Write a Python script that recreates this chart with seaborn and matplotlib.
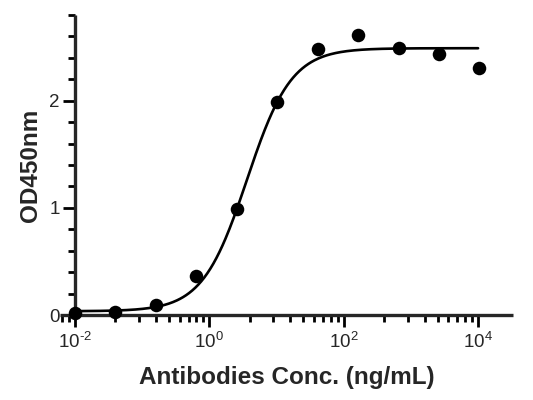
import numpy as np
import pandas as pd
import matplotlib
matplotlib.use("Agg")
import matplotlib.pyplot as plt
import seaborn as sns
from matplotlib.ticker import FixedLocator

# ---- data ----
conc = [0.01, 0.04, 0.16, 0.64, 2.56, 10.24, 40.96, 163.84, 655.36, 2621.44, 10485.76]
od450 = [0.02, 0.03, 0.09, 0.36, 0.99, 1.99, 2.48, 2.61, 2.49, 2.44, 2.31]

# 4PL fit parameters
fit_bottom = 0.035
fit_top = 2.49
fit_ec50 = 3.63
fit_hill = 1.31

x_major = [1e-2, 1e0, 1e2, 1e4]
x_major_labels = ["10$^{\u20102}$", "10$^{0}$", "10$^{2}$", "10$^{4}$"]
y_major = [0, 1, 2]
xlabel = "Antibodies Conc. (ng/mL)"
ylabel = "OD450nm"

sns.set_style("ticks")
plt.rcParams["font.family"] = ["Liberation Sans", "DejaVu Sans"]
plt.rcParams["mathtext.fontset"] = "custom"
plt.rcParams["mathtext.rm"] = "Liberation Sans"
plt.rcParams["mathtext.it"] = "Liberation Sans"
plt.rcParams["mathtext.default"] = "regular"

fig = plt.figure(figsize=(5.33, 4.0), dpi=100)
ax = fig.add_axes([60 / 533, 85 / 400, (513 - 60) / 533, (315 - 15) / 400])

xs = np.logspace(-2, 4, 400)
ys = fit_bottom + (fit_top - fit_bottom) / (1 + (fit_ec50 / xs) ** fit_hill)
curve = pd.DataFrame({"x": xs, "y": ys})
pts = pd.DataFrame({"x": conc, "y": od450})

sns.lineplot(data=curve, x="x", y="y", ax=ax, color="black", lw=1.9, zorder=3)
sns.scatterplot(data=pts, x="x", y="y", ax=ax, color="black", s=95,
                edgecolor="black", linewidth=0, zorder=4, clip_on=False)

ax.set_xscale("log")
ax.set_xlim(10 ** -2.223, 10 ** 4.52)
ax.set_ylim(0, 2.8)

ax.spines["left"].set_position(("data", 0.01))
ax.spines["right"].set_visible(False)
ax.spines["top"].set_visible(False)
for s in ("left", "bottom"):
    ax.spines[s].set_linewidth(2.4)
    ax.spines[s].set_capstyle("butt")

# minor ticks: Prism style, log-spaced within 2-decade spans
minor = []
for k in range(-3, 3):
    for m in range(2, 10):
        v = 10 ** (2 * k) * m * m
        if 10 ** -2.223 <= v <= 10 ** 4.52:
            minor.append(v)
ax.xaxis.set_major_locator(FixedLocator(x_major))
ax.xaxis.set_minor_locator(FixedLocator(minor))
ax.set_xticklabels(x_major_labels)
ax.yaxis.set_major_locator(FixedLocator(y_major))
ax.yaxis.set_minor_locator(FixedLocator([0.2, 0.4, 0.6, 0.8, 1.2, 1.4, 1.6, 1.8, 2.2, 2.4, 2.6, 2.8]))

ax.tick_params(which="major", length=8.5, width=2.0, labelsize=13.5, pad=2.5, color="black")
ax.tick_params(which="minor", length=5, width=2.0, color="black")
ax.tick_params(axis="x", which="major", pad=4)

ax.set_xlabel(xlabel, fontsize=17.5, fontweight="bold", labelpad=10)
ax.set_ylabel(ylabel, fontsize=17.5, fontweight="bold", labelpad=5)

fig.savefig("out.png", dpi=100)
